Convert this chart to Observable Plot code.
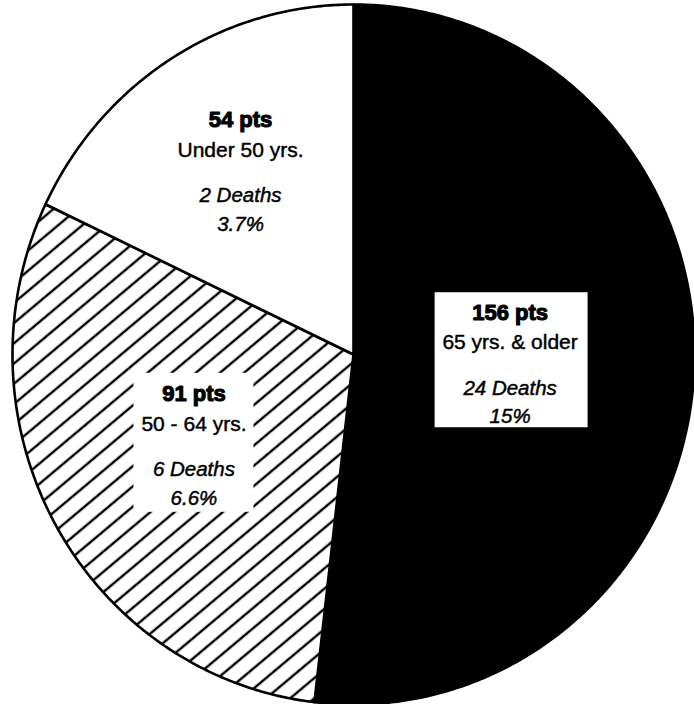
<!DOCTYPE html>
<html><head><meta charset="utf-8">
<script src="https://cdn.jsdelivr.net/npm/d3@7"></script>
<script src="https://cdn.jsdelivr.net/npm/@observablehq/plot@0.6"></script>
<style>body{margin:0;background:#fff} svg{display:block}</style>
</head><body><div id="chart"></div>
<script>
// ---- data ----
const groups = ["65 yrs. & older", "50 - 64 yrs.", "Under 50 yrs."];
const patients = [156, 91, 54];
const deaths = [24, 6, 2];
const deathRates = ["15%", "6.6%", "3.7%"];

// ---- derived slice geometry (angle measured clockwise from 12 o'clock) ----
const total = d3.sum(patients);
const slices = groups.map((g, i) => {
  const before = d3.sum(patients.slice(0, i));
  return {group: g, patients: patients[i], deaths: deaths[i], rate: deathRates[i],
    a0: before / total * 2 * Math.PI, a1: (before + patients[i]) / total * 2 * Math.PI};
});
const verts = slices.flatMap(s => {
  const n = Math.max(2, Math.ceil((s.a1 - s.a0) / (Math.PI / 360)));
  const pts = [{group: s.group, px: 0, py: 0}];
  for (let k = 0; k <= n; k++) {
    const a = s.a0 + (s.a1 - s.a0) * k / n;
    pts.push({group: s.group, px: Math.sin(a), py: Math.cos(a)});
  }
  return pts;
});

// ---- layout / style ----
const fillBy = {"65 yrs. & older": "black", "50 - 64 yrs.": "url(#hatch)", "Under 50 yrs.": "white"};
const labelRadius = {"65 yrs. & older": 0.46, "50 - 64 yrs.": 0.535, "Under 50 yrs.": 0.62};
const boxInsets = {
  "65 yrs. & older": {insetLeft: -75, insetRight: -78, insetTop: -71, insetBottom: -64},
  "50 - 64 yrs.": {insetLeft: -60, insetRight: -60, insetTop: -72, insetBottom: -67}
};
const labels = slices.map(s => {
  const m = (s.a0 + s.a1) / 2, r = labelRadius[s.group];
  return {...s, lx: r * Math.sin(m), ly: r * Math.cos(m)};
});
const font = "'Liberation Sans', Arial, Helvetica, sans-serif";

const marks = [];
for (const g of groups) {
  marks.push(Plot.line(verts.filter(d => d.group === g), {
    x: "px", y: "py", curve: "linear-closed",
    fill: fillBy[g], stroke: "black", strokeWidth: 2.6, strokeLinejoin: "round"
  }));
}
for (const g of Object.keys(boxInsets)) {
  marks.push(Plot.rect(labels.filter(d => d.group === g), {
    x1: "lx", x2: "lx", y1: "ly", y2: "ly", fill: "white", ...boxInsets[g]
  }));
}
const common = {x: "lx", y: "ly", lineAnchor: "bottom", fill: "black", stroke: "black", fontFamily: font, textAnchor: "middle"};
marks.push(
  Plot.text(labels, {...common, text: d => `${d.patients} pts`, fontWeight: "bold", fontSize: 22, dy: -44, strokeWidth: 1.1}),
  Plot.text(labels, {...common, text: "group", fontSize: 21, dy: -14.5, strokeWidth: 0.45}),
  Plot.text(labels, {...common, text: d => `${d.deaths} Deaths`, fontStyle: "italic", fontSize: 20.5, dy: 31, strokeWidth: 0.45}),
  Plot.text(labels, {...common, text: "rate", fontStyle: "italic", fontSize: 20.5, dy: 59.5, strokeWidth: 0.45})
);

const svg = Plot.plot({
  width: 694, height: 704,
  margin: 0,
  x: {axis: null, domain: [-353 / 341, 1]},
  y: {axis: null, domain: [-1, 354 / 350]},
  style: {background: "white", overflow: "hidden"},
  marks
});

// hatch pattern for the 50-64 slice
const defs = d3.select(svg).insert("defs", ":first-child");
const pat = defs.append("pattern").attr("id", "hatch")
  .attr("patternUnits", "userSpaceOnUse").attr("width", 40).attr("height", 15.5)
  .attr("patternTransform", "rotate(-40)");
pat.append("rect").attr("width", 40).attr("height", 15.5).attr("fill", "white");
pat.append("line").attr("x1", 0).attr("x2", 40).attr("y1", 7.75).attr("y2", 7.75)
  .attr("stroke", "black").attr("stroke-width", 2.4);

document.getElementById("chart").appendChild(svg);
</script>
</body></html>
